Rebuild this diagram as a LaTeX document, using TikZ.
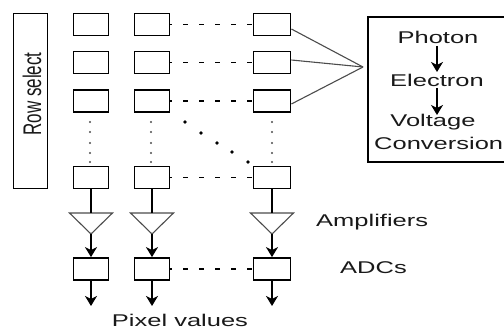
\documentclass[tikz,border=0pt]{standalone}
\usepackage{fontspec}
\setmainfont{Liberation Sans}
\usetikzlibrary{arrows.meta}
\newcommand{\wideText}[1]{\scalebox{1.5}[1]{#1}}
\begin{document}
\begin{tikzpicture}[x=1pt,y=-1pt,
  pix/.style={draw, line width=1.8pt, minimum width=35pt, minimum height=22pt, inner sep=0pt},
  pix3/.style={pix, minimum width=37pt},
  lbl/.style={inner sep=0pt, font=\fontsize{17}{20}\selectfont, text=black!90},
  conn/.style={line width=1.7pt},
  arr/.style={line width=1.7pt, -{Stealth[length=10pt,width=12pt,inset=3pt]}},
  dsh/.style={line width=1.1pt, dash pattern=on 5pt off 11pt, dash phase=3pt},
  thinl/.style={line width=1.1pt, draw=black!70},
  dotS/.style={circle, fill=black!70, inner sep=0pt, minimum size=2.2pt},
  dotL/.style={circle, fill=black, inner sep=0pt, minimum size=3.8pt}]
\useasboundingbox (0,0) rectangle (504,329);

% row select
\node[draw, line width=1.8pt, minimum width=34pt, minimum height=175pt, inner sep=0pt] (rowsel) at (30.5,101) {};
\node[lbl] (rowseltxt) at (32,94) {\wideText{\rotatebox{90}{Row select}}};

% pixel grid
\foreach \c/\x/\s in {1/91/pix,2/152/pix,3/272/pix3}{
  \node[\s] (p1\c) at (\x,24.5) {};
  \node[\s] (p2\c) at (\x,62.5) {};
  \node[\s] (p3\c) at (\x,101) {};
  \node[\s] (p4\c) at (\x,177.5) {};
  \node[\s] (adc\c) at (\x,269) {};
}

% dashed horizontals
\foreach \r in {1,2,3,4}{
  \draw[dsh] (p\r2.east) -- (p\r3.west);
}
\draw[dsh] (adc2.east) -- (adc3.west);

% vertical dots
\foreach \x/\n in {90/a,151/b,272/c}{
  \foreach \y/\k in {122/1,132/2,143/3,153/4,162/5}{
    \node[dotS] (v\n\k) at (\x,\y) {};
  }
}
% diagonal dots
\foreach \x/\y/\k in {185/122/1,201/133/2,217/143/3,232/152/4,248/162/5}{
  \node[dotL] (d\k) at (\x,\y) {};
}

% lines to conversion box
\coordinate (join) at (363,67);
\draw[thinl] ([yshift=-4.5pt]p13.east) -- (join);
\draw[thinl] ([yshift=2.5pt]p23.east) -- (join);
\draw[thinl] ([yshift=-3pt]p33.east) -- (join);

% conversion box
\node[draw, line width=1.3pt, minimum width=142pt, minimum height=145pt, inner sep=0pt] (conv) at (439,89.5) {};
\node[lbl] (photon) at (438,37) {\wideText{Photon}};
\node[lbl] (electron) at (437,80) {\wideText{Electron}};
\node[lbl] (voltage) at (433,122) {\wideText{Voltage}};
\node[lbl, anchor=west] (conversion) at (374,143) {\wideText{Conversion}};
\draw[arr] (437,46) -- (437,72);
\draw[arr] (437,88) -- (437,115);

% amplifiers
\foreach \c/\x in {1/91,2/152,3/272}{
  \coordinate (at\c) at (\x,213);
  \coordinate (ap\c) at (\x,234);
  \draw[thinl] (\x-21.5,213) -- (\x+21.5,213) -- (ap\c) -- cycle;
  \draw[conn] (p4\c.south) -- (at\c);
  \draw[arr] (ap\c) -- (adc\c.north);
  \coordinate (out\c) at (\x,306);
  \draw[arr] (adc\c.south) -- (out\c);
}

\node[lbl, anchor=west] (amps) at (316,222) {\wideText{Amplifiers}};
\node[lbl, anchor=west] (adcs) at (340,268) {\wideText{ADCs}};
\node[lbl] (pixval) at (180,320) {\wideText{Pixel values}};
\end{tikzpicture}
\end{document}
